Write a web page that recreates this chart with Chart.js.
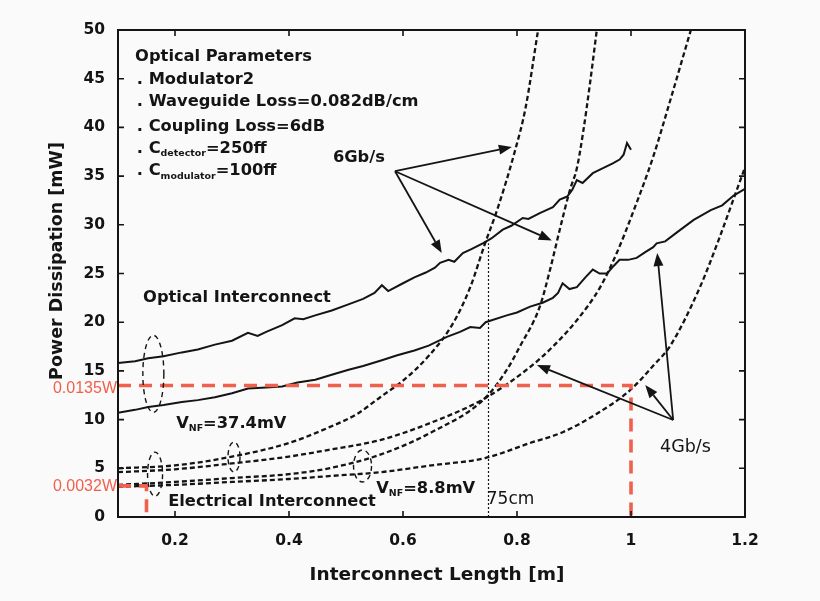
<!DOCTYPE html>
<html>
<head>
<meta charset="utf-8">
<script src="https://cdn.jsdelivr.net/npm/chart.js@4/dist/chart.umd.min.js"></script>
<style>
  html, body { margin: 0; padding: 0; background: #fafafa; }
  #wrap { width: 820px; height: 601px; }
</style>
</head>
<body>
<div id="wrap"><canvas id="c" width="820" height="601"></canvas></div>
<script>
// Interconnect length [m] on x, power dissipation [mW] on y.

// Optical interconnect, 6 Gb/s
const opt6X = [0.10, 0.13, 0.153, 0.18, 0.212, 0.24, 0.27, 0.30, 0.328, 0.345, 0.36, 0.388, 0.41, 0.425, 0.446, 0.475, 0.503, 0.53, 0.55, 0.563, 0.574, 0.60, 0.62, 0.64, 0.656, 0.665, 0.68, 0.69, 0.705, 0.72, 0.74, 0.755, 0.775, 0.79, 0.81, 0.82, 0.84, 0.863, 0.875, 0.888, 0.897, 0.905, 0.915, 0.933, 0.95, 0.968, 0.98, 0.987, 0.993, 1.0];
const opt6Y = [15.8, 16.0, 16.3, 16.5, 16.9, 17.2, 17.7, 18.1, 18.9, 18.6, 19.0, 19.7, 20.4, 20.3, 20.7, 21.2, 21.8, 22.4, 23.0, 23.8, 23.2, 24.0, 24.6, 25.1, 25.6, 26.1, 26.4, 26.2, 27.1, 27.5, 28.1, 28.6, 29.5, 29.9, 30.7, 30.6, 31.2, 31.8, 32.6, 32.9, 33.6, 34.6, 34.3, 35.3, 35.8, 36.3, 36.7, 37.2, 38.4, 37.7];

// Optical interconnect, 4 Gb/s
const opt4X = [0.10, 0.13, 0.153, 0.18, 0.212, 0.24, 0.27, 0.30, 0.328, 0.36, 0.388, 0.415, 0.446, 0.475, 0.503, 0.53, 0.563, 0.59, 0.62, 0.645, 0.677, 0.70, 0.718, 0.735, 0.745, 0.782, 0.80, 0.823, 0.845, 0.863, 0.872, 0.88, 0.892, 0.905, 0.92, 0.933, 0.945, 0.958, 0.97, 0.98, 0.995, 1.01, 1.025, 1.039, 1.045, 1.06, 1.08, 1.11, 1.14, 1.16, 1.18, 1.2];
const opt4Y = [10.7, 11.0, 11.3, 11.5, 11.8, 12.0, 12.3, 12.7, 13.2, 13.3, 13.4, 13.8, 14.1, 14.6, 15.1, 15.5, 16.1, 16.6, 17.1, 17.6, 18.5, 19.0, 19.5, 19.4, 20.0, 20.7, 21.0, 21.6, 22.0, 22.5, 23.0, 24.0, 23.4, 23.6, 24.6, 25.4, 25.0, 25.0, 25.8, 26.4, 26.4, 26.6, 27.2, 27.7, 28.1, 28.3, 29.2, 30.5, 31.5, 32.0, 33.0, 33.7];

// Electrical interconnect, 6 Gb/s, VNF = 37.4 mV
const ele6HiX = [0.10, 0.20, 0.30, 0.40, 0.47, 0.52, 0.56, 0.60, 0.646, 0.688, 0.718, 0.744, 0.765, 0.796, 0.815, 0.837];
const ele6HiY = [5.0, 5.3, 6.2, 7.6, 9.2, 10.6, 12.3, 14.0, 16.6, 19.9, 23.6, 28.1, 31.5, 37.5, 42.0, 50.0];

// Electrical interconnect, 6 Gb/s, VNF = 8.8 mV
const ele6LoX = [0.10, 0.20, 0.30, 0.40, 0.47, 0.56, 0.65, 0.744, 0.782, 0.805, 0.84, 0.858, 0.875, 0.893, 0.905, 0.916, 0.928, 0.94];
const ele6LoY = [3.3, 3.6, 4.0, 4.4, 5.0, 6.4, 8.7, 12.2, 15.1, 17.5, 21.6, 25.4, 29.5, 33.6, 35.8, 39.5, 44.5, 50.0];

// Electrical interconnect, 4 Gb/s, VNF = 37.4 mV
const ele4HiX = [0.10, 0.20, 0.30, 0.40, 0.47, 0.56, 0.65, 0.744, 0.823, 0.863, 0.905, 0.946, 0.975, 1.003, 1.039, 1.07, 1.105];
const ele4HiY = [4.6, 4.9, 5.5, 6.2, 6.9, 7.9, 9.7, 12.2, 15.4, 17.5, 20.2, 23.6, 27.1, 31.2, 37.0, 43.0, 50.0];

// Electrical interconnect, 4 Gb/s, VNF = 8.8 mV
const ele4LoX = [0.10, 0.20, 0.30, 0.40, 0.47, 0.56, 0.65, 0.744, 0.823, 0.88, 0.94, 0.998, 1.04, 1.068, 1.121, 1.156, 1.179, 1.2];
const ele4LoY = [3.1, 3.3, 3.6, 3.9, 4.2, 4.6, 5.3, 6.05, 7.6, 8.7, 10.6, 13.0, 15.6, 17.5, 23.6, 28.8, 32.5, 35.9];

// 75 cm crossover marker
const crossX = [0.75, 0.75];
const crossY = [0, 28.1];

// Highlighted operating points: 13.5 mW at 1 m, 3.2 mW at 0.15 m
const mark135X = [0.1, 1.0, 1.0];
const mark135Y = [13.5, 13.5, 0];
const mark32X = [0.1, 0.15, 0.15];
const mark32Y = [3.2, 3.2, 0];

// Axis ticks
const xTickValues = [0.2, 0.4, 0.6, 0.8, 1.0, 1.2];
const yTickStep = 5;

const pts = (xs, ys) => xs.map((v, i) => ({ x: v, y: ys[i] }));

const FONT = '"DejaVu Sans", sans-serif';
const INK = '#141414';
const RED = '#f0604c';

function arrow(ctx, x0, y0, x1, y1) {
  const ang = Math.atan2(y1 - y0, x1 - x0);
  const head = 13, w = 5;
  const bx = x1 - head * Math.cos(ang), by = y1 - head * Math.sin(ang);
  ctx.beginPath(); ctx.moveTo(x0, y0); ctx.lineTo(bx, by); ctx.stroke();
  ctx.beginPath();
  ctx.moveTo(x1, y1);
  ctx.lineTo(bx + w * Math.sin(ang), by - w * Math.cos(ang));
  ctx.lineTo(bx - w * Math.sin(ang), by + w * Math.cos(ang));
  ctx.closePath(); ctx.fill();
}

// Text with optional subscript runs: parts = [[text, isSub], ...]
function richText(ctx, parts, x, y, size, weight) {
  let cx = x;
  parts.forEach(([t, sub]) => {
    const s = sub ? size * 0.58 : size;
    ctx.font = `${weight} ${s}px ${FONT}`;
    ctx.fillText(t, cx, sub ? y + size * 0.3 : y);
    cx += ctx.measureText(t).width;
  });
}

const overlay = {
  id: 'overlay',
  afterDatasetsDraw(chart) {
    const { ctx, chartArea: a, scales: { x, y } } = chart;
    const X = v => x.getPixelForValue(v), Y = v => y.getPixelForValue(v);
    ctx.save();

    // frame and inward tick marks on all four sides
    ctx.strokeStyle = INK; ctx.lineWidth = 2; ctx.setLineDash([]);
    ctx.strokeRect(a.left, a.top, a.right - a.left, a.bottom - a.top);
    ctx.lineWidth = 1.6;
    ctx.beginPath();
    x.ticks.forEach(t => {
      const p = X(t.value);
      ctx.moveTo(p, a.bottom); ctx.lineTo(p, a.bottom - 6);
      ctx.moveTo(p, a.top); ctx.lineTo(p, a.top + 6);
    });
    y.ticks.forEach(t => {
      const p = Y(t.value);
      ctx.moveTo(a.left, p); ctx.lineTo(a.left + 6, p);
      ctx.moveTo(a.right, p); ctx.lineTo(a.right - 6, p);
    });
    ctx.stroke();

    // dashed ellipses marking the noise-margin groups
    ctx.lineWidth = 1.4; ctx.setLineDash([5, 4]);
    [[0.162, 14.7, 10.5, 38.5], [0.165, 4.4, 7.5, 22], [0.3035, 6.16, 6, 15], [0.529, 5.24, 9, 16]].forEach(([cx, cy, rx, ry]) => {
      ctx.beginPath(); ctx.ellipse(X(cx), Y(cy), rx, ry, 0, 0, Math.PI * 2); ctx.stroke();
    });

    // arrows from the data-rate labels
    ctx.setLineDash([]); ctx.lineWidth = 1.8; ctx.fillStyle = INK;
    const v6 = [0.586, 35.5];
    [[0.791, 38.0], [0.668, 27.1], [0.861, 28.4]].forEach(([tx, ty]) => arrow(ctx, X(v6[0]), Y(v6[1]), X(tx), Y(ty)));
    const v4 = [1.074, 9.96];
    [[0.835, 15.6], [1.025, 13.55], [1.046, 27.1]].forEach(([tx, ty]) => arrow(ctx, X(v4[0]), Y(v4[1]), X(tx), Y(ty)));

    // annotation text
    ctx.fillStyle = INK; ctx.textAlign = 'left'; ctx.textBaseline = 'middle';
    const B = 'bold', S = 16.3;
    richText(ctx, [['Optical Parameters']], X(0.130), Y(47.2), S, B);
    richText(ctx, [['. Modulator2']], X(0.133), Y(44.9), S, B);
    richText(ctx, [['. Waveguide Loss=0.082dB/cm']], X(0.133), Y(42.6), S, B);
    richText(ctx, [['. Coupling Loss=6dB']], X(0.133), Y(40.1), S, B);
    richText(ctx, [['. C'], ['detector', true], ['=250ff']], X(0.133), Y(37.8), S, B);
    richText(ctx, [['. C'], ['modulator', true], ['=100ff']], X(0.133), Y(35.5), S, B);
    richText(ctx, [['6Gb/s']], X(0.477), Y(36.9), S, B);
    richText(ctx, [['Optical Interconnect']], X(0.144), Y(22.5), S, B);
    richText(ctx, [['V'], ['NF', true], ['=37.4mV']], X(0.202), Y(9.55), S, B);
    richText(ctx, [['Electrical Interconnect']], X(0.188), Y(1.54), S, B);
    richText(ctx, [['V'], ['NF', true], ['=8.8mV']], X(0.553), Y(2.87), S, B);
    richText(ctx, [['75cm']], X(0.747), Y(1.75), 17, 'normal');
    richText(ctx, [['4Gb/s']], X(1.051), Y(7.19), 17.5, 'normal');
    ctx.restore();
  },
  afterDraw(chart) {
    const { ctx, scales: { y } } = chart;
    ctx.save();
    // axis titles
    ctx.fillStyle = INK; ctx.textAlign = 'center'; ctx.textBaseline = 'middle';
    ctx.font = `bold 18.5px ${FONT}`;
    ctx.fillText('Interconnect Length [m]', 437, 575);
    ctx.translate(57, 261); ctx.rotate(-Math.PI / 2);
    ctx.font = `bold 17.5px ${FONT}`;
    ctx.fillText('Power Dissipation [mW]', 0, 0);
    ctx.setTransform(1, 0, 0, 1, 0, 0);
    // red value callouts
    ctx.fillStyle = RED; ctx.textAlign = 'right';
    ctx.font = `16px "Liberation Sans", Arial, sans-serif`;
    ctx.fillText('0.0135W', 117, y.getPixelForValue(13.5) + 3);
    ctx.fillText('0.0032W', 117, y.getPixelForValue(3.2) + 1);
    ctx.restore();
  }
};

const solid = (label, xs, ys) => ({
  label, data: pts(xs, ys), showLine: true, borderColor: INK, borderWidth: 2,
  pointRadius: 0, tension: 0, order: 5
});
const dashed = (label, xs, ys) => ({
  label, data: pts(xs, ys), showLine: true, borderColor: INK, borderWidth: 2.3,
  borderDash: [5, 3], pointRadius: 0, cubicInterpolationMode: 'monotone', order: 4
});

const datasets = [
  { label: '13.5 mW', data: pts(mark135X, mark135Y), showLine: true, borderColor: RED, borderWidth: 3.6, borderDash: [13, 8], pointRadius: 0, order: 0 },
  { label: '3.2 mW', data: pts(mark32X, mark32Y), showLine: true, borderColor: RED, borderWidth: 3.6, borderDash: [13, 8], pointRadius: 0, order: 0 },
  solid('Optical 6Gb/s', opt6X, opt6Y),
  solid('Optical 4Gb/s', opt4X, opt4Y),
  dashed('Electrical 6Gb/s 37.4mV', ele6HiX, ele6HiY),
  dashed('Electrical 6Gb/s 8.8mV', ele6LoX, ele6LoY),
  dashed('Electrical 4Gb/s 37.4mV', ele4HiX, ele4HiY),
  dashed('Electrical 4Gb/s 8.8mV', ele4LoX, ele4LoY),
  { label: '75cm', data: pts(crossX, crossY), showLine: true, borderColor: INK, borderWidth: 1.2, borderDash: [2, 2], pointRadius: 0, order: 6 }
];

const tickFont = { family: FONT, size: 15.5, weight: 'bold' };

new Chart(document.getElementById('c'), {
  type: 'scatter',
  data: { datasets },
  options: {
    responsive: false,
    animation: false,
    devicePixelRatio: 1,
    layout: { padding: { top: 30, right: 75, left: 0, bottom: 0 } },
    plugins: { legend: { display: false }, tooltip: { enabled: false } },
    scales: {
      x: {
        type: 'linear', min: 0.1, max: 1.2,
        afterBuildTicks: s => { s.ticks = xTickValues.map(v => ({ value: v })); },
        afterFit: s => { s.height = 84; },
        grid: { display: false },
        border: { display: false },
        ticks: {
          padding: 7, color: INK, font: tickFont, maxRotation: 0, autoSkip: false,
          callback: v => String(+Number(v).toFixed(1))
        }
      },
      y: {
        type: 'linear', min: 0, max: 50,
        afterFit: s => { s.width = 118; },
        grid: { display: false },
        border: { display: false },
        ticks: { stepSize: yTickStep, padding: 5, color: INK, font: tickFont }
      }
    }
  },
  plugins: [overlay]
});
</script>
</body>
</html>
